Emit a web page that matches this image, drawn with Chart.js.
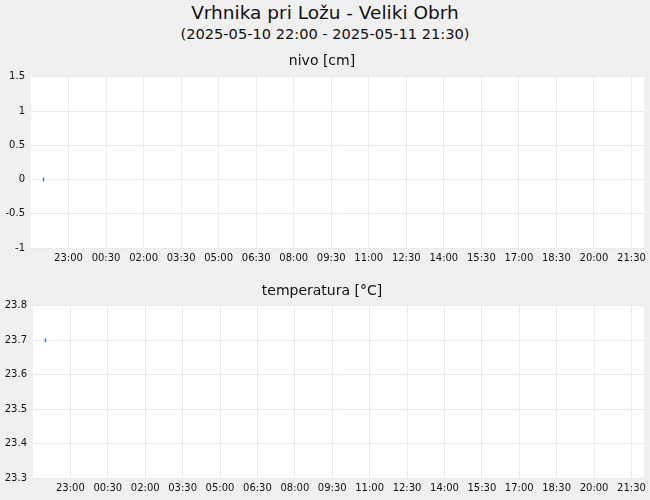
<!DOCTYPE html>
<html>
<head>
<meta charset="utf-8">
<script src="https://cdn.jsdelivr.net/npm/chart.js@4"></script>
<style>
  html, body { margin: 0; padding: 0; background: #f0f0f0; }
  body { position: relative; width: 650px; height: 500px; overflow: hidden; font-family: "DejaVu Sans", sans-serif; color: #111; }
  .title { position: absolute; left: 0; width: 650px; text-align: center; }
  #t1 { top: 1px; font-size: 18.5px; line-height: 24px; }
  #t2 { top: 24px; font-size: 14.6px; line-height: 20px; }
  canvas { position: absolute; left: 0; }
  #nivoChart { top: 46px; }
  #tempChart { top: 268px; }
</style>
</head>
<body>
<div class="title" id="t1">Vrhnika pri Ložu - Veliki Obrh</div>
<div class="title" id="t2">(2025-05-10 22:00 - 2025-05-11 21:30)</div>
<canvas id="nivoChart" width="650" height="222"></canvas>
<canvas id="tempChart" width="650" height="232"></canvas>
<script>
// podatki
const times = ['2025-05-10 22:00'];
const nivo = [0];
const temperatura = [23.7];
const xRange = ['2025-05-10 21:30', '2025-05-11 22:00'];
const xTickLabels = ['23:00', '00:30', '02:00', '03:30', '05:00', '06:30', '08:00', '09:30',
                     '11:00', '12:30', '14:00', '15:30', '17:00', '18:30', '20:00', '21:30'];
const nivoTicks = [-1, -0.5, 0, 0.5, 1, 1.5];
const tempTicks = [23.3, 23.4, 23.5, 23.6, 23.7, 23.8];

// ure od 2025-05-10 00:00
function toHours(s) {
    const [d, t] = s.split(' ');
    const day = parseInt(d.slice(8, 10), 10) - 10;
    const [h, m] = t.split(':').map(Number);
    return day * 24 + h + m / 60;
}

const xTickValues = [];
let prev = -1;
xTickLabels.forEach(l => {
    const [h, m] = l.split(':').map(Number);
    let v = h + m / 60;
    while (v < prev) v += 24;
    xTickValues.push(v);
    prev = v;
});

function fmtHour(v) {
    const i = xTickValues.findIndex(t => Math.abs(t - v) < 1e-6);
    return i >= 0 ? xTickLabels[i] : '';
}

const whiteArea = {
    id: 'whiteArea',
    beforeDraw(chart) {
        const a = chart.chartArea, ctx = chart.ctx;
        ctx.save();
        ctx.fillStyle = '#ffffff';
        ctx.fillRect(a.left, a.top, a.right - a.left, a.bottom - a.top);
        ctx.restore();
    }
};

function makeChart(id, title, values, yTicks, color, yWidth, titlePad, xHeight, dec) {
    const ctx = document.getElementById(id).getContext('2d');
    return new Chart(ctx, {
        type: 'scatter',
        data: {
            datasets: [{
                data: times.map((t, i) => ({ x: toHours(t), y: values[i] })),
                pointStyle: 'line',
                rotation: 90,
                radius: 2,
                borderWidth: 1.5,
                borderColor: color,
                backgroundColor: color
            }]
        },
        options: {
            responsive: false,
            animation: false,
            devicePixelRatio: 1,
            layout: { padding: { right: 6 } },
            plugins: {
                legend: { display: false },
                tooltip: { enabled: false },
                title: {
                    display: true,
                    text: title,
                    color: '#111',
                    font: { family: 'DejaVu Sans', size: 14, weight: 'normal' },
                    padding: titlePad
                }
            },
            scales: {
                x: {
                    type: 'linear',
                    min: toHours(xRange[0]),
                    max: toHours(xRange[1]),
                    afterBuildTicks: s => { s.ticks = xTickValues.map(v => ({ value: v })); },
                    afterFit: s => { s.height = xHeight; },
                    grid: { color: '#ebebeb', drawTicks: false },
                    border: { display: false },
                    ticks: {
                        autoSkip: false,
                        maxRotation: 0,
                        padding: 4,
                        color: '#111',
                        font: { family: 'DejaVu Sans', size: 10 },
                        callback: v => fmtHour(v)
                    }
                },
                y: {
                    min: yTicks[0],
                    max: yTicks[yTicks.length - 1],
                    afterBuildTicks: s => { s.ticks = yTicks.map(v => ({ value: v })); },
                    afterFit: s => { s.width = yWidth; },
                    grid: { color: '#ebebeb', drawTicks: false },
                    border: { display: false },
                    ticks: {
                        padding: 6,
                        color: '#111',
                        font: { family: 'DejaVu Sans', size: 10 },
                        callback: v => dec ? Number(v).toFixed(1) : String(v)
                    }
                }
            }
        },
        plugins: [whiteArea]
    });
}

makeChart('nivoChart', 'nivo [cm]', nivo, nivoTicks, '#1e88e5', 31, { top: 7, bottom: 7 }, 20, false);
makeChart('tempChart', 'temperatura [°C]', temperatura, tempTicks, '#0a9be8', 33, { top: 15, bottom: 6 }, 22, true);
</script>
</body>
</html>
